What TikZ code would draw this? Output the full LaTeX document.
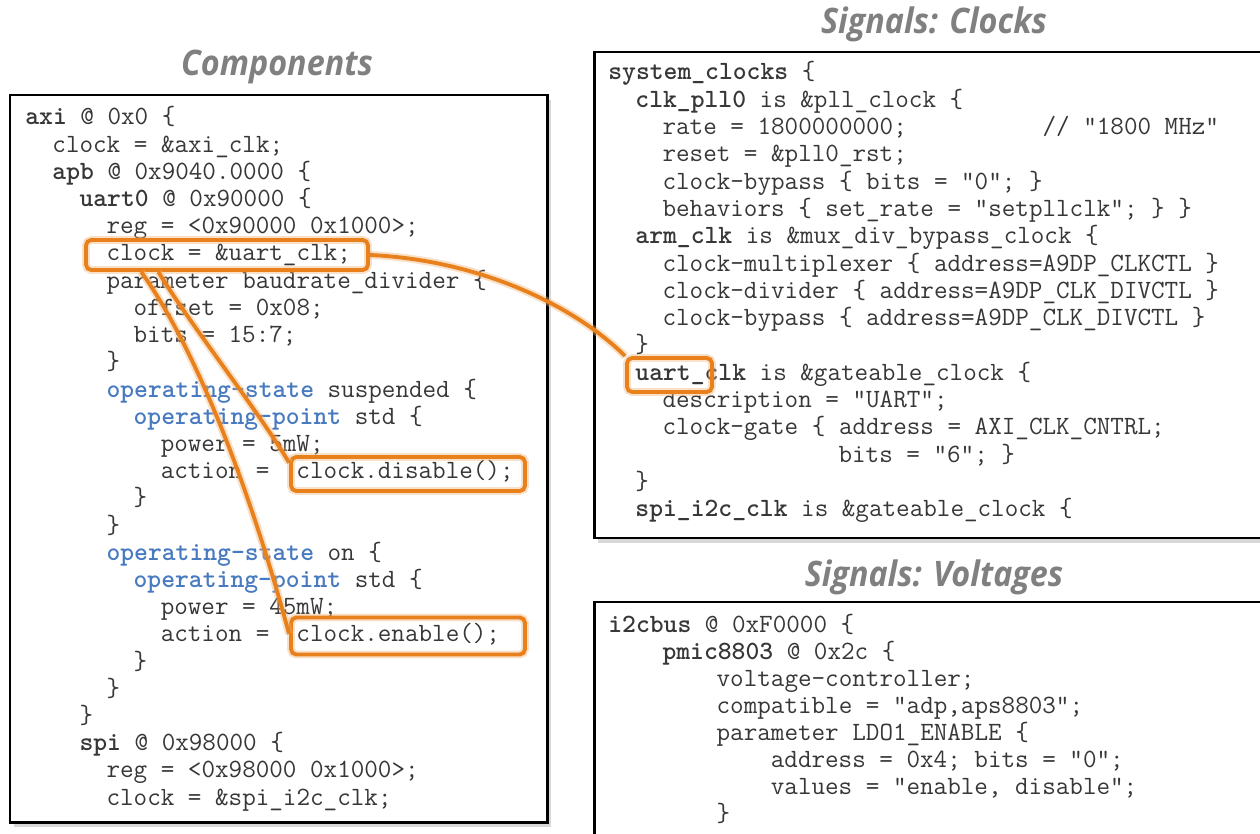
\documentclass[tikz,border=0pt]{standalone}
\usepackage{fontspec}
\newfontfamily\titlefont{Open Sans}
\usetikzlibrary{positioning,shadows,calc}
\definecolor{kwblue}{RGB}{72,122,192}
\definecolor{hlorange}{RGB}{232,128,28}
\definecolor{codegray}{RGB}{55,55,55}
\newcommand{\kw}[1]{\textcolor{kwblue}{\textbf{#1}}}

\begin{document}
\begin{tikzpicture}[x=0.02cm,y=-0.02cm,
  code/.style={anchor=base west, inner sep=0pt, text=codegray,
    font=\ttfamily\fontsize{15}{17}\selectfont},
  title/.style={text=black!50, xscale=0.92, transform shape,
    font=\titlefont\bfseries\itshape\fontsize{20}{24}\selectfont},
  panel/.style={draw=black, line width=1.7pt, fill=white,
    drop shadow={shadow xshift=2pt, shadow yshift=-3pt, opacity=0.3}},
  hlbox/.style={draw=hlorange, line width=2.2pt, rounded corners=3pt, inner sep=0pt,
    preaction={draw=hlorange!60, line width=4.5pt, opacity=0.4}},
  link/.style={draw=hlorange, line width=2.2pt,
    preaction={draw=hlorange!60, line width=4.5pt, opacity=0.4}}]
\fill[white] (0,0) rectangle (1260,834);
\useasboundingbox (0,0) rectangle (1260,834);

% Panels
\draw[panel] (10,95) rectangle (547,822);
\draw[panel] (594,52) rectangle (1275,538);
\draw[panel] (594,602) rectangle (1275,860);

% Titles
\node[title] (ttlcomp) at (277,67) {Components};
\node[title] (ttlclk) at (934,24) {Signals: Clocks};
\node[title] (ttlvolt) at (934,577) {Signals: Voltages};

% Components
\node[code] (comp0) at (25,125) {\textbf{axi} @ 0x0 \{};
\node[code] (comp1) at (52.1,152.2) {clock = \&axi\_clk;};
\node[code] (comp2) at (52.1,179.4) {\textbf{apb} @ 0x9040.0000 \{};
\node[code] (comp3) at (79.2,206.6) {\textbf{uart0} @ 0x90000 \{};
\node[code] (comp4) at (106.2,233.8) {reg = <0x90000 0x1000>;};
\node[code] (comp5) at (106.2,261) {clock = \&uart\_clk;};
\node[code] (comp6) at (106.2,288.2) {parameter baudrate\_divider \{};
\node[code] (comp7) at (133.3,315.4) {offset = 0x08;};
\node[code] (comp8) at (133.3,342.6) {bits = 15:7;};
\node[code] (comp9) at (106.2,369.8) {\}};
\node[code] (comp10) at (106.2,397) {\kw{operating-state} suspended \{};
\node[code] (comp11) at (133.3,424.2) {\kw{operating-point} std \{};
\node[code] (comp12) at (160.4,451.4) {power = 5mW;};
\node[code] (comp13) at (160.4,478.6) {action =~~clock.disable();};
\node[code] (comp14) at (133.3,505.8) {\}};
\node[code] (comp15) at (106.2,533) {\}};
\node[code] (comp16) at (106.2,560.2) {\kw{operating-state} on \{};
\node[code] (comp17) at (133.3,587.4) {\kw{operating-point} std \{};
\node[code] (comp18) at (160.4,614.6) {power = 45mW;};
\node[code] (comp19) at (160.4,641.8) {action =~~clock.enable();};
\node[code] (comp20) at (133.3,669) {\}};
\node[code] (comp21) at (106.2,696.2) {\}};
\node[code] (comp22) at (79.2,723.4) {\}};
\node[code] (comp23) at (79.2,750.6) {\textbf{spi} @ 0x98000 \{};
\node[code] (comp24) at (106.2,777.8) {reg = <0x98000 0x1000>;};
\node[code] (comp25) at (106.2,805) {clock = \&spi\_i2c\_clk;};

% Clocks
\node[code] (clk0) at (608,80) {\textbf{system\_clocks} \{};
\node[code] (clk1) at (635.1,107.3) {\textbf{clk\_pll0} is \&pll\_clock \{};
\node[code] (clk2) at (662.2,134.6) {rate = 1800000000;~~~~~~~~~~// "1800 MHz"};
\node[code] (clk3) at (662.2,161.9) {reset = \&pll0\_rst;};
\node[code] (clk4) at (662.2,189.2) {clock-bypass \{ bits = "0"; \}};
\node[code] (clk5) at (662.2,216.5) {behaviors \{ set\_rate = ”setpllclk”; \} \}};
\node[code] (clk6) at (635.1,243.8) {\textbf{arm\_clk} is \&mux\_div\_bypass\_clock \{};
\node[code] (clk7) at (662.2,271.1) {clock-multiplexer \{ address=A9DP\_CLKCTL \}};
\node[code] (clk8) at (662.2,298.4) {clock-divider \{ address=A9DP\_CLK\_DIVCTL \}};
\node[code] (clk9) at (662.2,325.7) {clock-bypass \{ address=A9DP\_CLK\_DIVCTL \}};
\node[code] (clk10) at (635.1,353) {\}};
\node[code] (clk11) at (635.1,380.3) {\textbf{uart\_clk} is \&gateable\_clock \{};
\node[code] (clk12) at (662.2,407.6) {description = "UART";};
\node[code] (clk13) at (662.2,434.9) {clock-gate \{ address = AXI\_CLK\_CNTRL;};
\node[code] (clk14) at (838.2,462.2) {bits = "6"; \}};
\node[code] (clk15) at (635.1,489.5) {\}};
\node[code] (clk16) at (635.1,516.8) {\textbf{spi\_i2c\_clk} is \&gateable\_clock \{};

% Voltages
\node[code] (volt0) at (608,632) {\textbf{i2cbus} @ 0xF0000 \{};
\node[code] (volt1) at (662.2,659.1) {\textbf{pmic8803} @ 0x2c \{};
\node[code] (volt2) at (716.3,686.2) {voltage-controller;};
\node[code] (volt3) at (716.3,713.3) {compatible = "adp,aps8803";};
\node[code] (volt4) at (716.3,740.4) {parameter LDO1\_ENABLE \{};
\node[code] (volt5) at (770.5,767.5) {address = 0x4; bits = "0";};
\node[code] (volt6) at (770.5,794.6) {values = "enable, disable";};
\node[code] (volt7) at (716.3,821.7) {\}};

% Highlights
\node[hlbox, minimum width=5.64cm, minimum height=0.6cm] (hlref) at (227,255) {};
\node[hlbox, minimum width=4.68cm, minimum height=0.68cm] (hldis) at (408,474) {};
\node[hlbox, minimum width=4.68cm, minimum height=0.74cm] (hlen) at (408,636) {};
\node[hlbox, minimum width=1.7cm, minimum height=0.68cm] (hlclk) at (669.5,375) {};

% Links
\draw[link] (hlref.east) .. controls +(110,5) and +(-50,-50) .. (hlclk.north west);
\draw[link] ($(hlref.south west)!0.26!(hlref.south east)$) .. controls +(30,50) and +(-31,-52) .. ($(hldis.north west)!0.2!(hldis.south west)$);
\draw[link] ($(hlref.south west)!0.2!(hlref.south east)$) .. controls +(64,90) and +(-31,-115) .. ($(hlen.north west)!0.45!(hlen.south west)$);
\end{tikzpicture}
\end{document}
